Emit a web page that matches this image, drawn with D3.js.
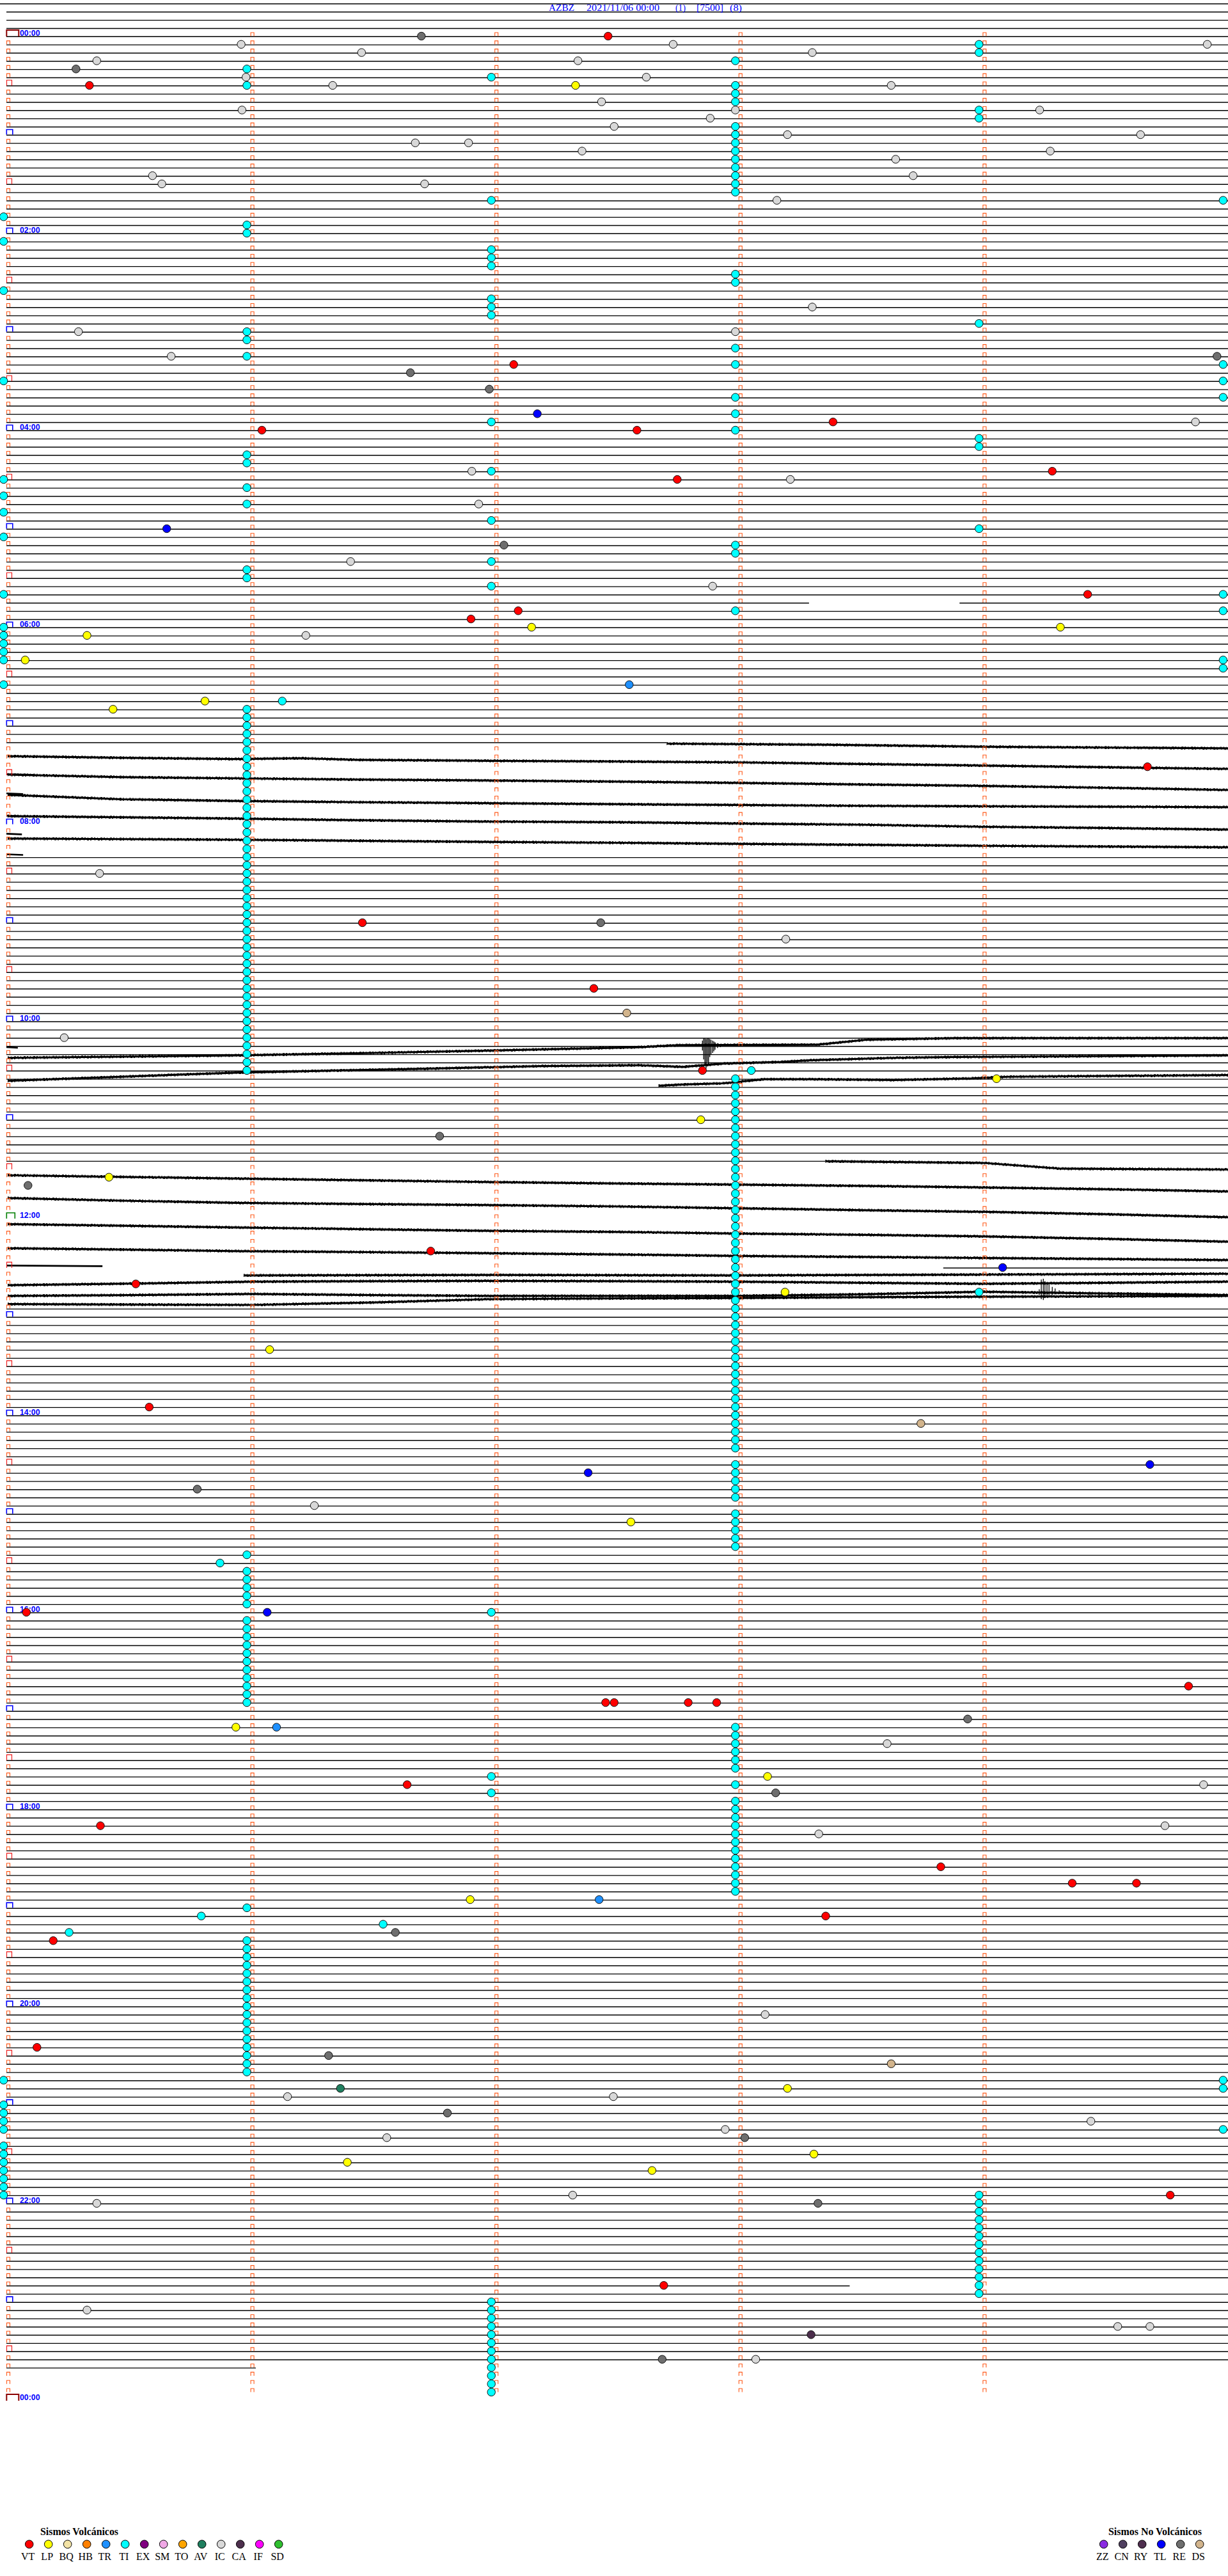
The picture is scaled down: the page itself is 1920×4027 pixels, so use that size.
<!DOCTYPE html>
<html><head><meta charset="utf-8">
<script src="https://cdn.jsdelivr.net/npm/d3@7"></script>
<style>html,body{margin:0;padding:0;background:#fff}svg{display:block}</style>
</head><body>
<svg id="c" width="1920" height="4027"></svg>
<script>
// ---------------- DATA ----------------
const titleParts = ["AZBZ", "2021/11/06 00:00", "(1)", "[7500]", "(8)"];
const hourLabels = ["00:00","02:00","04:00","06:00","08:00","10:00","12:00","14:00","16:00","18:00","20:00","22:00","00:00"];
const rowsPerDay = 288;          // 5-minute lines
const lastDataRow = 284;
const noBaselineRows = [87,88,89,90,91,92,93,94,95,96,97,98,99,138,139,140,141,142,143,144,145,146,147,148,149,151,152,153,154];
const partialRows = [[69,[[0,197],[234,300]]],[86,[[0,162]]],[137,[[0,201]]],[150,[[230,300]]],[274,[[0,207]]],[284,[[0,61]]]];

// events: [row, seconds within the 5-min line]
const VT = [[0,147.6],[6,20.1],[40,124.4],[47,202.9],[48,62.5],[48,154.7],[53,256.8],[54,164.6],[68,265.5],[70,125.5],[71,113.9],[89,280.2],[108,87.2],[116,144.1],[126,170.8],[148,104.0],[152,31.5],[167,34.8],[192,4.6],[201,290.3],[203,147.0],[203,149.1],[203,167.3],[203,174.3],[213,98.2],[218,22.8],[223,229.4],[225,261.7],[225,277.5],[229,201.1],[232,11.2],[245,7.2],[263,285.8],[274,161.3]];
const LP = [[6,139.6],[72,128.8],[72,258.8],[73,19.5],[76,4.3],[81,48.5],[82,25.9],[127,243.1],[132,170.4],[139,24.9],[153,191.1],[160,64.4],[181,153.2],[206,56.1],[212,186.8],[227,113.7],[250,191.7],[258,198.2],[259,83.5],[260,158.4]];
const TR = [[79,152.8],[206,66.1],[227,145.4]];
const IC = [[1,57.4],[1,163.6],[1,294.9],[2,87.0],[2,197.8],[3,21.9],[3,140.2],[5,58.6],[5,157.0],[6,79.9],[6,217.2],[8,146.0],[9,57.6],[9,178.9],[9,253.7],[10,172.7],[11,149.1],[12,191.7],[12,278.5],[13,100.2],[13,113.3],[14,141.2],[14,256.3],[15,218.3],[17,35.6],[17,222.6],[18,37.9],[18,102.5],[20,189.1],[33,197.8],[36,17.4],[36,178.9],[39,40.2],[47,292.0],[53,114.1],[54,192.4],[57,115.8],[64,84.3],[67,173.3],[73,73.3],[102,22.6],[110,191.3],[122,13.9],[179,75.4],[208,216.2],[213,294.0],[218,284.5],[219,199.4],[241,186.2],[251,68.8],[251,148.9],[254,266.3],[255,176.4],[256,93.2],[263,138.9],[264,21.9],[277,19.5],[279,272.9],[279,280.8],[283,183.9]];
const AV = [[250,81.8]];
const CA = [[280,197.5]];
const TL = [[46,130.2],[60,39.1],[150,244.6],[174,280.8],[175,142.7],[192,63.8]];
const RE = [[0,101.7],[4,16.8],[39,297.3],[41,99.0],[43,118.4],[62,122.0],[108,145.8],[134,106.2],[140,5.0],[177,46.6],[205,236.0],[214,188.8],[231,95.3],[246,78.9],[253,108.1],[256,181.2],[264,199.2],[283,160.9]];
const DS = [[119,152.2],[169,224.5],[247,217.2]];

// TI events grouped by their (repeating) offset in seconds
const TI_sec = [-1, 58.8, 118.9, 178.9, 238.8, 298.8];
const TI_rows = [
  [22,25,31,42,54,56,58,61,68,72,73,74,75,76,79,249,252,253,254,255,257,258,259,260,261,262,263],
  [4,6,23,24,36,37,39,51,52,55,57,65,66,82,83,84,85,86,87,88,89,90,91,92,93,94,95,96,97,98,99,100,101,102,103,104,105,106,107,108,109,110,111,112,113,114,115,116,117,118,119,120,121,122,123,124,125,126,185,187,188,189,190,191,193,194,195,196,197,198,199,200,201,202,203,228,232,233,234,235,236,237,238,239,240,241,242,243,244,245,246,247,248],
  [5,20,26,27,28,32,33,34,47,53,59,64,67,192,212,214,276,277,278,279,280,281,282,283,284,285,286,287],
  [3,6,7,8,11,12,13,14,15,16,17,18,19,29,30,38,40,44,46,48,62,63,70,127,128,129,130,131,132,133,134,135,136,137,138,139,140,141,142,143,144,145,146,147,148,149,150,151,152,153,154,155,156,157,158,159,160,161,162,163,164,165,166,167,168,169,170,171,172,174,175,176,177,178,180,181,182,183,184,206,207,208,209,210,211,213,215,216,217,218,219,220,221,222,223,224,225,226],
  [1,2,9,10,35,49,50,60,153,263,264,265,266,267,268,269,270,271,272,273,274,275],
  [20,40,42,44,68,70,76,77,249,250,255]
];
const TI_other = [[81,67.5],[126,182.8],[186,52.2],[229,47.6],[230,92.3],[231,15.1]];

// seismic traces: [seconds, row position]
const traces = [
  [[162,86.12],[200,86.25],[240,86.5],[300,86.7]],
  [[0,87.65],[28,87.85],[56,88.0],[72,87.9],[86,88.1],[114,88.2],[150,88.3],[179,88.4],[210,88.6],[240,88.8],[270,89.0],[300,89.2]],
  [[0,89.9],[28,90.2],[56,90.35],[85,90.5],[114,90.6],[150,90.75],[179,90.9],[210,91.1],[240,91.27],[270,91.5],[300,91.77]],
  [[0,92.36],[28,92.9],[56,93.1],[85,93.25],[114,93.36],[150,93.5],[179,93.6],[210,93.7],[240,93.76],[270,93.8],[300,93.86]],
  [[0,94.95],[28,95.1],[56,95.25],[85,95.45],[114,95.6],[150,95.7],[179,95.85],[210,96.0],[240,96.25],[270,96.4],[300,96.6]],
  [[0,97.69],[28,97.75],[56,97.83],[85,97.95],[114,98.08],[150,98.2],[179,98.33],[210,98.45],[240,98.57],[300,98.75]],
  [[0,124.4],[56,124.1],[90,123.8],[120,123.5],[155,123.1],[165,122.85],[199,122.8],[211,122.2],[233,122.0],[300,122.0]],
  [[0,127.2],[56,126.2],[105,125.7],[131,125.4],[155,125.3],[166,125.5],[176,125.1],[190,124.9],[197,124.7],[218,124.4],[233,124.3],[300,124.1]],
  [[160,127.8],[166,127.65],[176,127.5],[186,127.0],[197,127.0],[218,127.1],[237,126.9],[246,126.7],[300,126.5]],
  [[201,137.0],[240,137.2],[259,137.9],[300,138.0]],
  [[0,138.7],[28,138.9],[56,139.1],[85,139.3],[114,139.5],[150,139.7],[179,139.84],[210,140.0],[240,140.19],[270,140.4],[300,140.68]],
  [[0,141.47],[28,141.8],[56,142.06],[85,142.2],[114,142.32],[150,142.5],[179,142.72],[210,142.95],[240,143.16],[270,143.45],[300,143.81]],
  [[0,144.66],[28,144.85],[56,145.06],[85,145.25],[114,145.45],[150,145.6],[179,145.8],[210,145.95],[240,146.15],[270,146.45],[300,146.8]],
  [[0,147.6],[28,147.75],[56,147.94],[85,148.05],[114,148.18],[150,148.35],[179,148.53],[210,148.65],[240,148.78],[270,148.9],[300,149.03]],
  [[58,150.9],[120,150.85],[179,150.9],[240,150.8],[300,150.7]],
  [[0,152.1],[30,151.9],[60,151.67],[90,151.6],[118,151.57],[150,151.6],[179,151.67],[210,151.8],[240,151.92],[270,151.8],[300,151.67]],
  [[0,153.4],[30,153.3],[60,153.16],[90,153.3],[118,153.4],[150,153.4],[179,153.4],[210,153.2],[240,152.9],[270,153.1],[300,153.3]],
  [[0,154.4],[30,154.45],[60,154.5],[90,154.2],[118,153.8],[150,153.7],[179,153.65],[210,153.55],[240,153.5],[270,153.45],[300,153.4]]
];
const stubs = [[89.85,6.5],[92.18,3.8],[94.9,2.9],[97.1,3.5],[99.6,3.8],[123.1,2.5],[149.7,23.3]];
// burst spikes: [seconds, top row, bottom row]
const burst1 = [[170.8,122.3,123.5],[171.1,122.0,124.6],[171.4,122.0,125.3],[171.7,122.1,125.7],[172.0,122.0,124.9],[172.3,122.0,125.2],[172.6,122.1,124.3],[172.9,122.2,124.0],[173.3,122.3,123.8],[173.6,122.4,123.6],[173.9,122.5,123.4],[174.5,122.6,123.2],[175.2,122.7,123.1],[176.1,122.75,123.0],[177.1,122.8,122.95]];
const burst2 = [[253.6,152.6,153.3],[254.1,151.4,153.8],[254.6,151.3,153.9],[255.0,151.6,153.6],[255.5,151.8,153.5],[256.0,152.0,153.4],[256.8,152.3,153.3],[257.5,152.5,153.2],[258.5,152.7,153.15],[259.4,152.8,153.1],[260.7,152.9,153.05]];

const volcanic = [["VT","#ff0000"],["LP","#ffff00"],["BQ","#f3e3a6"],["HB","#ff8000"],["TR","#1e90ff"],["TI","#00ffff"],["EX","#800080"],["SM","#f0a8e6"],["TO","#ffa500"],["AV","#1f7f5f"],["IC","#d8d8d8"],["CA","#4d2f4d"],["IF","#ff00ff"],["SD","#2fbf2f"]];
const nonVolcanic = [["ZZ","#8a2be2"],["CN","#4f3f5f"],["RY","#4f2f4f"],["TL","#0000ff"],["RE","#6e6e6e"],["DS","#d2b48c"]];

// ---------------- DRAW ----------------
const svg = d3.select("#c");
const x = d3.scaleLinear().domain([0, 300]).range([12, 1920]);
const y = d3.scaleLinear().domain([0, rowsPerDay]).range([57.3, 57.3 + 12.833 * rowsPerDay]);
const colorOf = Object.fromEntries(volcanic.concat(nonVolcanic));

// baselines
const segs = [];
d3.range(-4, lastDataRow + 1).forEach(r => {
  if (noBaselineRows.includes(r)) return;
  const p = partialRows.find(d => d[0] === r);
  if (p) p[1].forEach(([a, b]) => segs.push([r, a === 0 ? 10 : x(a), x(b)]));
  else segs.push([r, r === -4 ? 0 : 10, 1920]);
});
svg.append("g").selectAll("line").data(segs).join("line")
  .attr("x1", d => d[1]).attr("x2", d => d[2])
  .attr("y1", d => y(d[0])).attr("y2", d => y(d[0]))
  .attr("stroke", "#000").attr("stroke-width", 1.4);

// traces
const line = d3.line().x(d => x(d[0])).y(d => y(d[1]));
const tg = svg.append("g").attr("fill", "none").attr("stroke", "#000").attr("stroke-linejoin", "round");
tg.selectAll("path.a").data(traces).join("path").attr("class", "a")
  .attr("d", line).attr("stroke-width", 3.2);
tg.selectAll("path.b").data(traces).join("path").attr("class", "b")
  .attr("d", line).attr("stroke-width", 1).attr("transform", "translate(0,-1.8)")
  .attr("stroke-dasharray", "2 3 1 4 3 2");
tg.selectAll("path.c").data(traces).join("path").attr("class", "c")
  .attr("d", line).attr("stroke-width", 1).attr("transform", "translate(0,1.8)")
  .attr("stroke-dasharray", "1 4 3 2 2 5");
svg.append("g").selectAll("line").data(stubs).join("line")
  .attr("x1", 10).attr("x2", d => x(d[1]))
  .attr("y1", d => y(d[0])).attr("y2", d => y(d[0]) + 1)
  .attr("stroke", "#000").attr("stroke-width", 2.6);
svg.append("g").selectAll("line").data(burst1.concat(burst2)).join("line")
  .attr("x1", d => x(d[0])).attr("x2", d => x(d[0]))
  .attr("y1", d => y(d[1])).attr("y2", d => y(d[2]))
  .attr("stroke", "#000").attr("stroke-width", 1.3);

// minute markers
const mk = svg.append("g").attr("fill", "none");
function cap(g, x0, yb, w, h, color, sw) {
  g.append("path").attr("d", `M${x0},${yb} V${yb - h} H${x0 + w} V${yb}`)
    .attr("stroke", color).attr("stroke-width", sw);
}
d3.range(0, rowsPerDay).forEach(r => {
  const yb = y(r) - 0.8;
  [1, 2, 3, 4].forEach(m => cap(mk, x(m * 60) - 1.5, yb, 5, 5.5, "#ff5a1a", 1.1));
  if (r % 12 === 0) return;
  if (r % 12 === 6) cap(mk, 10.5, y(r) - 0.3, 8, 8.8, "#ee1111", 1.1);
  else cap(mk, 10.5, yb, 5, 5.5, "#ff5a1a", 1.1);
});
// hour brackets + labels
d3.range(0, rowsPerDay + 1, 12).forEach(r => {
  const h = r / 12;
  if (h % 24 === 0) cap(mk, 10.3, y(r) - 0.3, 19, 10, "#8b0000", 2);
  else if (h === 12) cap(mk, 10.3, y(r) - 0.3, 13, 9, "#007f00", 1.6);
  else cap(mk, 10.3, y(r) - 0.8, 9.5, 8, "#0000ff", 1.6);
});
svg.append("g").selectAll("text").data(hourLabels).join("text")
  .attr("x", 31).attr("y", (d, i) => y(i * 24) - 1.2)
  .attr("font-family", "Liberation Sans, Arial, sans-serif").attr("font-weight", "bold")
  .attr("font-size", 12.5).attr("fill", "#0000ff")
  .attr("textLength", 31.5).attr("lengthAdjust", "spacingAndGlyphs")
  .text(d => d);

// events
const events = [];
[["VT", VT], ["LP", LP], ["TR", TR], ["IC", IC], ["AV", AV], ["CA", CA], ["TL", TL], ["RE", RE], ["DS", DS]]
  .forEach(([t, arr]) => arr.forEach(([r, s]) => events.push({t, r, s})));
TI_sec.forEach((s, i) => TI_rows[i].forEach(r => events.push({t: "TI", r, s})));
TI_other.forEach(([r, s]) => events.push({t: "TI", r, s}));
svg.append("g").selectAll("circle").data(events).join("circle")
  .attr("cx", d => x(d.s)).attr("cy", d => y(d.r) - 0.8).attr("r", 6.2)
  .attr("fill", d => colorOf[d.t]).attr("stroke", "#111").attr("stroke-width", 1);

// title
const tPos = [[858, 40], [917, 114], [1056, 16], [1089, 42], [1141, 19]];
svg.append("g").selectAll("text").data(titleParts).join("text")
  .attr("x", (d, i) => tPos[i][0]).attr("y", 17)
  .attr("textLength", (d, i) => tPos[i][1]).attr("lengthAdjust", "spacingAndGlyphs")
  .attr("font-family", "Liberation Serif, Times New Roman, serif").attr("font-size", 14.5)
  .attr("fill", "#0000ff").text(d => d);

// legends
function legend(items, x0, headerX, headerW, header) {
  const g = svg.append("g");
  g.append("text").attr("x", headerX).attr("y", 3963).text(header)
    .attr("font-family", "Liberation Serif, serif").attr("font-weight", "bold").attr("font-size", 16)
    .attr("textLength", headerW).attr("lengthAdjust", "spacingAndGlyphs");
  g.selectAll("circle").data(items).join("circle")
    .attr("cx", (d, i) => x0 + i * 30).attr("cy", 3977.3).attr("r", 6.3)
    .attr("fill", d => d[1]).attr("stroke", "#000").attr("stroke-width", 1);
  g.selectAll("text.l").data(items).join("text").attr("class", "l")
    .attr("x", (d, i) => x0 + i * 30 - 2).attr("y", 4001.5).attr("text-anchor", "middle")
    .attr("font-family", "Liberation Serif, serif").attr("font-size", 16)
    .text(d => d[0]);
}
legend(volcanic, 45.7, 63, 122, "Sismos Volcánicos");
legend(nonVolcanic, 1725.7, 1733, 146, "Sismos No Volcánicos");
</script>
</body></html>
